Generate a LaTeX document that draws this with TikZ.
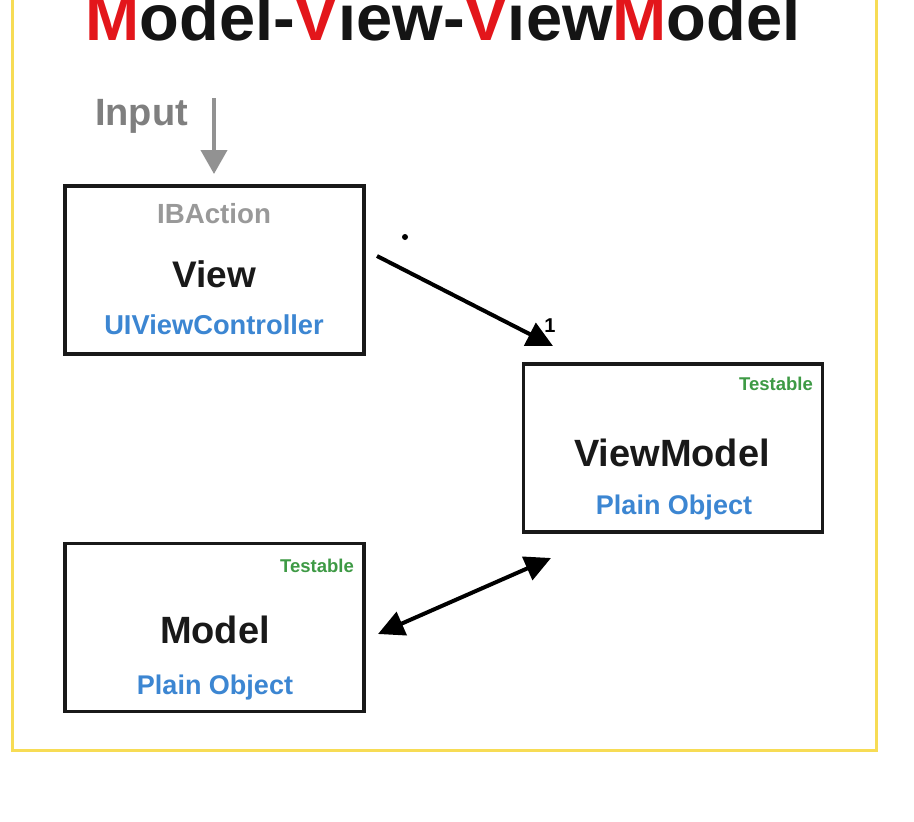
\documentclass[tikz,border=0pt]{standalone}
\usepackage{fontspec}
\setmainfont{Liberation Sans}
\usetikzlibrary{arrows.meta,calc}
\definecolor{mred}{HTML}{E3161B}
\definecolor{mblue}{HTML}{3C86D2}
\definecolor{mgreen}{HTML}{3E9A45}
\definecolor{mgray}{HTML}{999999}
\definecolor{igray}{HTML}{7F7F7F}
\definecolor{frameyellow}{HTML}{F7DC55}
\tikzset{
  box/.style={draw=black!90, line width=3.5pt, minimum width=299pt, minimum height=168pt, inner sep=0pt},
  lbl/.style={anchor=base, inner sep=0pt, font=\fontsize{#1}{#1}\selectfont\bfseries},
  tip/.style={Triangle[length=26pt,width=25pt]},
  conn/.style={line width=4pt, -{Triangle[length=26pt,width=25pt]}},
  dconn/.style={line width=4pt, {Triangle[length=26pt,width=25pt]}-{Triangle[length=26pt,width=25pt]}},
}
\begin{document}
\begin{tikzpicture}[x=1pt,y=-1pt]
\useasboundingbox[fill=white] (0,0) rectangle (914,822);
\draw[frameyellow, line width=3pt] (12,-20) rectangle (876,750);

% title
\node[lbl=65, text=black!92] (title) at (443,40) {\textcolor{mred}{M}odel-\textcolor{mred}{V}iew-\textcolor{mred}{V}iew\textcolor{mred}{M}odel};

% boxes
\node[box] (view) at (214.5,270) {};
\node[box] (vm) at (673,448) {};
\node[box] (model) at (214.5,627.5) {};

% View texts
\node[lbl=27.7, text=mgray] (ibaction) at (214,223) {IBAction};
\node[lbl=37, text=black!90] (viewlbl) at (214,287) {View};
\node[lbl=27.3, text=mblue] (uivc) at (214,334) {UIViewController};

% ViewModel texts
\node[lbl=18.5, text=mgreen, anchor=base east] (vmtest) at (813,390) {Testable};
\node[lbl=38, text=black!90] (vmlbl) at (672,466) {ViewModel};
\node[lbl=27, text=mblue] (vmplain) at (674,514) {Plain Object};

% Model texts
\node[lbl=18.5, text=mgreen, anchor=base east] (mtest) at (354,572) {Testable};
\node[lbl=38, text=black!90] (mlbl) at (215,643) {Model};
\node[lbl=27, text=mblue] (mplain) at (215,694) {Plain Object};

% Input
\node[lbl=38, text=igray, anchor=base west] (input) at (95,125) {Input};
\coordinate (in1) at (214,98);
\coordinate (in2) at (214,174);
\draw[line width=4pt, igray!85, -{Triangle[length=24pt,width=26pt]}] (in1) -- (in2);

% View -> ViewModel
\coordinate (a1) at (377,256);
\coordinate (a2) at (553,346);
\draw[conn] (a1) -- (a2);
\fill (405,237) circle[radius=3pt];
\node[lbl=20] (one) at (550,332) {1};

% Model <-> ViewModel
\coordinate (b1) at (378,634);
\coordinate (b2) at (551,558);
\draw[dconn] (b1) -- (b2);
\end{tikzpicture}
\end{document}
